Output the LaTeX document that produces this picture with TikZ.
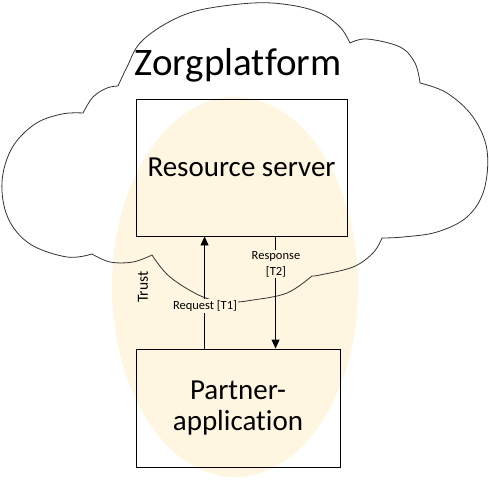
\documentclass[tikz,border=0pt]{standalone}
\usepackage{fontspec}
\setmainfont{Carlito}[Ligatures=CommonOff]
\usetikzlibrary{arrows.meta}
\definecolor{trustfill}{RGB}{255,246,225}
\tikzset{
  boxnode/.style={draw=black, line width=0.9pt, inner sep=0pt, align=center},
  flowarrow/.style={draw=black, line width=0.9pt, -{Triangle[length=9pt,width=8pt]}},
  smalllabel/.style={fill=trustfill, inner sep=1pt, align=center, font=\fontsize{12.5}{16}\selectfont},
  cloudline/.style={draw=black!80, line width=0.8pt, line join=miter}
}
\begin{document}
\begin{tikzpicture}[x=1pt,y=-1pt]
\useasboundingbox (0,0) rectangle (489,479);
% trust ellipse
\fill[trustfill] (235,287) ellipse [x radius=123, y radius=190];
% cloud
\draw[cloudline]
  plot[smooth, tension=0.6] coordinates {(92,254) (67,257) (30,244) (8,218) (2,182) (12,148) (35,124) (62,114) (83,113)}
  -- plot[smooth, tension=0.6] coordinates {(83,113) (93,97) (107,88) (118,86)}
  -- plot[smooth, tension=0.6] coordinates {(118,86) (127,67) (140,43) (167,23) (200,10) (253,3) (290,5) (320,13) (340,27) (350,43)}
  -- plot[smooth, tension=0.6] coordinates {(350,43) (367,39) (400,47) (415,63) (420,83)}
  -- plot[smooth, tension=0.6] coordinates {(420,83) (447,93) (473,117) (487,150) (484,190) (467,217) (437,232) (403,237) (382,238)}
  -- plot[smooth, tension=0.6] coordinates {(382,238) (373,253) (353,267) (320,275) (312,276)}
  -- plot[smooth, tension=0.6] coordinates {(312,276) (287,293) (253,300) (230,302) (203,297) (170,277) (152,255)}
  -- plot[smooth, tension=0.6] coordinates {(152,255) (133,262) (110,262) (92,254)} -- cycle;
% title
\node (title) at (238,65) {\fontsize{39}{44}\selectfont Zorgplatform};
% boxes
\node[boxnode, minimum width=211pt, minimum height=137pt, font=\fontsize{29}{35}\selectfont] (rs) at (241.5,167.5) {Resource server};
\node[boxnode, minimum width=204pt, minimum height=118pt, font=\fontsize{29}{31}\selectfont] (pa) at (238,408) {Partner-\\application};
% arrows
\draw[flowarrow] ([xshift=69pt]pa.north west) -- ([xshift=69pt]rs.south west);
\draw[flowarrow] ([xshift=140pt]rs.south west) -- ([xshift=140pt]pa.north west);
% labels
\node[smalllabel] (req) at (205,306) {Request [T1]};
\node[smalllabel] (resp) at (276,264) {Response\\{}[T2]};
\node[rotate=90, font=\fontsize{15.5}{18}\selectfont] (trust) at (143,287) {Trust};
\end{tikzpicture}
\end{document}
